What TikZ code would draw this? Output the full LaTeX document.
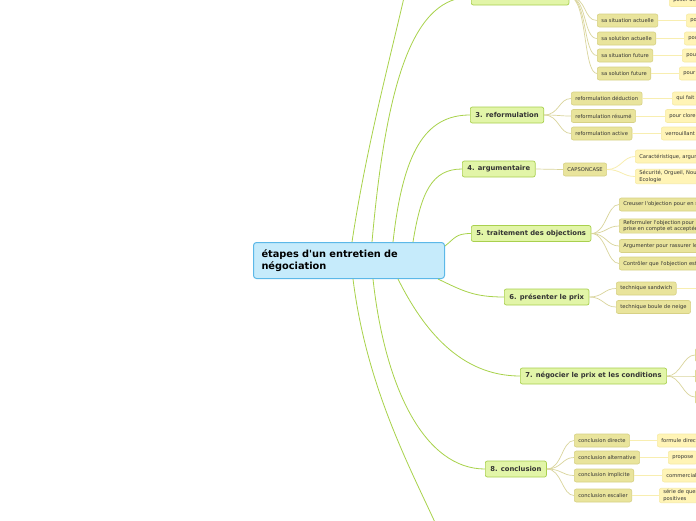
\documentclass[tikz,border=0pt]{standalone}
\usepackage{fontspec}
\setmainfont{DejaVu Sans}[Ligatures=TeXOff]
\definecolor{cfill}{HTML}{C6EBFB}
\definecolor{cborder}{HTML}{5CB8E8}
\definecolor{gfill}{HTML}{E2F5A8}
\definecolor{gborder}{HTML}{A9D04E}
\definecolor{gline}{HTML}{A8D24A}
\definecolor{ofill}{HTML}{E9E49C}
\definecolor{oborder}{HTML}{D7D185}
\definecolor{oline}{HTML}{DAD59C}
\definecolor{lfill}{HTML}{FFF4B6}
\definecolor{lborder}{HTML}{F6EBA6}
\definecolor{lline}{HTML}{F8EEB0}
\definecolor{tcol}{HTML}{333333}
\tikzset{
  central/.style={draw=cborder, fill=cfill, rounded corners=3pt, line width=1pt,
    font=\bfseries\fontsize{9.8}{12}\selectfont, text=black, align=left,
    minimum width=191pt, minimum height=36pt, text width=175pt, inner xsep=8pt, anchor=north west},
  mainb/.style={draw=gborder, fill=gfill, rounded corners=2pt, line width=0.7pt,
    font=\bfseries\fontsize{6.8}{8}\selectfont, text=tcol, minimum height=16pt,
    inner xsep=5pt, inner ysep=0pt, anchor=west},
  sub/.style={draw=oborder, fill=ofill, rounded corners=2pt, line width=0.6pt,
    font=\fontsize{5.2}{6.2}\selectfont, text=tcol, minimum height=13pt,
    inner xsep=4pt, inner ysep=1.5pt, anchor=west, align=left},
  leaf/.style={draw=lborder, fill=lfill, rounded corners=2pt, line width=0.6pt,
    font=\fontsize{5.2}{6.2}\selectfont, text=tcol, minimum height=13pt,
    inner xsep=4pt, inner ysep=1.5pt, anchor=west, align=left},
  mline/.style={draw=gline, line width=0.8pt},
  oln/.style={draw=oline, line width=0.7pt},
  lln/.style={draw=lline, line width=0.8pt},
}
\begin{document}
\begin{tikzpicture}[x=1pt,y=-1pt]
\useasboundingbox (0,0) rectangle (696,520);
\clip (0,0) rectangle (696,520);
\fill[white] (0,0) rectangle (696,520);

% central
\node[central] (c) at (253,242) {étapes d'un entretien de\\négociation};

% main branches
\node[mainb] (n2) at (471,-3) {2. analyse des besoins};
\node[mainb] (n3) at (470,115) {3. reformulation};
\node[mainb] (n4) at (462,169) {4. argumentaire};
\node[mainb] (n5) at (471,233.5) {5. traitement des objections};
\node[mainb] (n6) at (504,297) {6. présenter le prix};
\node[mainb] (n7) at (520,376) {7. négocier le prix et les conditions};
\node[mainb] (n8) at (485,469) {8. conclusion};
\coordinate (b1) at (416,-60);
\coordinate (b9) at (445,545);

\draw[mline] ([xshift=99pt]c.north west) .. controls +(18,-120) and +(-12,70) .. (b1);
\draw[mline] ([xshift=119pt]c.north west) .. controls +(15,-170) and +(-55,0) .. (n2.west);
\draw[mline] ([xshift=140pt]c.north west) .. controls +(10,-90) and +(-45,0) .. (n3.west);
\draw[mline] ([xshift=160pt]c.north west) .. controls +(8,-50) and +(-30,0) .. (n4.west);
\draw[mline] ([yshift=-4pt]c.north east) .. controls +(10,-8) and +(-15,0) .. (n5.west);
\draw[mline] ([xshift=-7pt]c.south east) .. controls +(25,12) and +(-30,0) .. (n6.west);
\draw[mline] ([xshift=145pt]c.south west) .. controls +(25,50) and +(-60,0) .. (n7.west);
\draw[mline] ([xshift=120pt]c.south west) .. controls +(12,110) and +(-60,0) .. (n8.west);
\draw[mline] ([xshift=100pt]c.south west) .. controls +(15,120) and +(-25,-60) .. (b9);

% branch 2
\node[sub] (c21) at (597,20.5) {sa situation actuelle};
\node[sub] (c22) at (597,38.5) {sa solution actuelle};
\node[sub] (c23) at (597,55.5) {sa situation future};
\node[sub] (c24) at (597,73.5) {sa solution future};
\node[leaf] (l20) at (669,0) {poser des questions};
\node[leaf] (l21) at (686,20.5) {pour};
\node[leaf] (l22) at (684,38.5) {pour};
\node[leaf] (l23) at (682,55.5) {pour};
\node[leaf] (l24) at (679,73.5) {pour};
\foreach \i in {1,...,4} {
  \draw[oln] (n2.east) .. controls +(18,0) and +(-14,0) .. (c2\i.west);
  \draw[lln] (c2\i.east) -- (l2\i.west);
}

% branch 3
\node[sub] (c31) at (571,98.5) {reformulation déduction};
\node[sub] (c32) at (571,116) {reformulation résumé};
\node[sub] (c33) at (571,133.5) {reformulation active};
\node[leaf] (l31) at (672,98.5) {qui fait};
\node[leaf] (l32) at (665,116) {pour clore};
\node[leaf] (l33) at (661,133.5) {verrouillant};
\foreach \i in {1,...,3} {
  \draw[oln] (n3.east) .. controls +(15,0) and +(-12,0) .. (c3\i.west);
  \draw[lln] (c3\i.east) -- (l3\i.west);
}

% branch 4
\node[sub] (c41) at (563,169.5) {CAPSONCASE};
\node[leaf] (l41) at (635,156.5) {Caractéristique, argument, avantage};
\node[leaf] (l42) at (635,176.5) {Sécurité, Orgueil, Nouveauté, Confort, Argent, Sympathie,\\Ecologie};
\draw[oln] (n4.east) -- (c41.west);
\draw[lln] (c41.east) .. controls +(14,0) and +(-12,0) .. (l41.west);
\draw[lln] (c41.east) .. controls +(14,0) and +(-12,0) .. (l42.west);

% branch 5
\node[sub] (c51) at (619,204.5) {Creuser l'objection pour en savoir plus};
\node[sub] (c52) at (619,226) {Reformuler l'objection pour montrer qu'elle est\\prise en compte et acceptée};
\node[sub] (c53) at (619,246) {Argumenter pour rassurer le client};
\node[sub] (c54) at (619,263.5) {Contrôler que l'objection est levée};
\foreach \i in {1,...,4} {
  \draw[oln] (n5.east) .. controls +(15,0) and +(-12,0) .. (c5\i.west);
}

% branch 6
\node[sub] (c61) at (616,288.5) {technique sandwich};
\node[sub] (c62) at (616,307) {technique boule de neige};
\coordinate (l61) at (700,288.5);
\draw[oln] (n6.east) .. controls +(14,0) and +(-12,0) .. (c61.west);
\draw[oln] (n6.east) .. controls +(14,0) and +(-12,0) .. (c62.west);
\draw[lln] (c61.east) -- (l61);

% branch 7
\node[sub, minimum width=30pt] (c71) at (695,355) {};
\node[sub, minimum width=30pt] (c72) at (695,376) {};
\node[sub, minimum width=30pt] (c73) at (695,397) {};
\foreach \i in {1,...,3} {
  \draw[oln] (n7.east) .. controls +(14,0) and +(-12,0) .. (c7\i.west);
}

% branch 8
\node[sub] (c81) at (574,440.5) {conclusion directe};
\node[sub] (c82) at (574,457.5) {conclusion alternative};
\node[sub] (c83) at (574,475.5) {conclusion implicite};
\node[sub] (c84) at (574,495.5) {conclusion escalier};
\node[leaf] (l81) at (657,440.5) {formule directe};
\node[leaf] (l82) at (668,457.5) {propose};
\node[leaf] (l83) at (662,475.5) {commercial};
\node[leaf] (l84) at (659,495.5) {série de questions\\positives};
\foreach \i in {1,...,4} {
  \draw[oln] (n8.east) .. controls +(15,0) and +(-12,0) .. (c8\i.west);
  \draw[lln] (c8\i.east) -- (l8\i.west);
}
\end{tikzpicture}
\end{document}
